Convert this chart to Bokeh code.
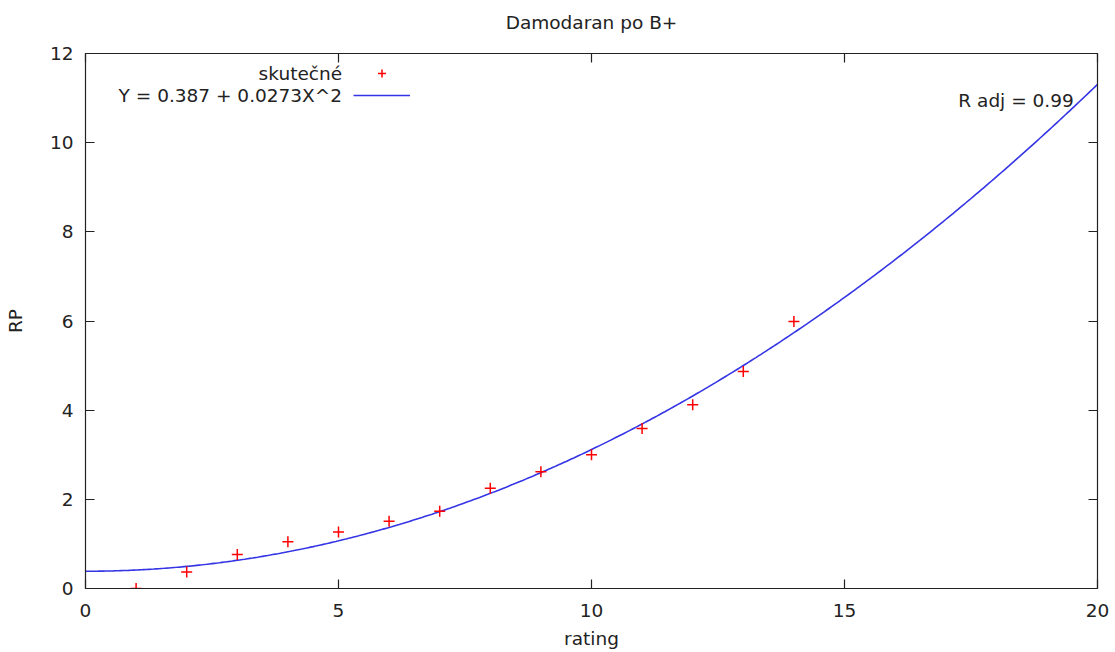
import numpy as np
from bokeh.plotting import figure
from bokeh.models import (Range1d, LinearAxis, FixedTicker, Legend, LegendItem,
                          Label)
from bokeh.embed import file_html
from bokeh.resources import INLINE

# ---- data ----
rating = [1, 2, 3, 4, 5, 6, 7, 8, 9, 10, 11, 12, 13, 14]
rp = [0.0, 0.37, 0.76, 1.05, 1.27, 1.51, 1.73, 2.25, 2.62, 3.0, 3.59, 4.12, 4.87, 5.99]
fit_b0 = 0.387
fit_b2 = 0.0273
x_ticks = [0, 5, 10, 15, 20]
y_ticks = [0, 2, 4, 6, 8, 10, 12]
title_text = "Damodaran po B+"
x_label = "rating"
y_label = "RP"
series_label = "skutečné"
fit_label = "Y = 0.387 + 0.0273X^2"
radj_text = "R adj = 0.99"

FONT = "DejaVu Sans"
FS = "18.5px"
TXT = "#222222"

fit_x = np.linspace(0, 20, 401)
fit_y = fit_b0 + fit_b2 * fit_x ** 2

p = figure(width=1115, height=652, output_backend="svg", toolbar_location=None,
           x_range=Range1d(0, 20), y_range=Range1d(0, 12),
           min_border_left=85, min_border_right=18, min_border_top=53,
           min_border_bottom=64, x_axis_location=None, y_axis_location=None)
p.grid.visible = False
p.outline_line_color = "#222222"
p.outline_line_width = 1.2

def style_axis(ax, ticks, show_labels):
    ax.ticker = FixedTicker(ticks=ticks)
    ax.major_tick_in = 9
    ax.major_tick_out = 0
    ax.minor_tick_line_color = None
    ax.axis_line_color = "#222222"
    ax.major_tick_line_color = "#222222"
    ax.major_tick_line_width = 1.2
    ax.major_label_text_font = FONT
    ax.major_label_text_font_size = FS
    ax.major_label_text_color = TXT
    ax.axis_label_text_font = FONT
    ax.axis_label_text_font_size = FS
    ax.axis_label_text_font_style = "normal"
    ax.axis_label_text_color = TXT
    if not show_labels:
        ax.major_label_text_font_size = "1px"
        ax.major_label_text_color = None
        ax.major_label_standoff = 0

xb = LinearAxis(axis_label=x_label)
style_axis(xb, x_ticks, True)
xb.major_label_standoff = 15
xb.axis_label_standoff = 8
p.add_layout(xb, "below")

yl = LinearAxis(axis_label=y_label)
style_axis(yl, y_ticks, True)
yl.major_label_standoff = 12
yl.axis_label_standoff = 21
p.add_layout(yl, "left")

# top mirror axis carries the chart title
xt = LinearAxis(axis_label=title_text)
style_axis(xt, x_ticks, False)
xt.axis_label_standoff = 21
p.add_layout(xt, "above")

yr = LinearAxis()
style_axis(yr, y_ticks, False)
p.add_layout(yr, "right")

curve = p.line(fit_x, fit_y, line_color="#3535e6", line_width=1.6)
pts = p.scatter(rating, rp, marker="cross", size=11, line_color="#ff0000",
                line_width=1.5)

leg = Legend(items=[LegendItem(label=" ", renderers=[pts]),
                    LegendItem(label=" ", renderers=[curve])],
             location=(268, 483), padding=0, margin=0, spacing=2,
             glyph_width=57, glyph_height=20, label_height=20, label_width=10,
             label_text_font_size="12px", border_line_color=None,
             background_fill_alpha=0)
p.add_layout(leg)

lab_x = 5.07
p.add_layout(Label(x=lab_x, y=11.55, text=series_label, text_align="right",
                   text_baseline="middle", text_font=FONT, text_font_size=FS,
                   text_color=TXT))
p.add_layout(Label(x=lab_x, y=11.06, text=fit_label, text_align="right",
                   text_baseline="middle", text_font=FONT, text_font_size=FS,
                   text_color=TXT))
p.add_layout(Label(x=19.53, y=10.94, text=radj_text, text_align="right",
                   text_baseline="middle", text_font=FONT, text_font_size=FS,
                   text_color=TXT))

open("out.html", "w").write(file_html(p, INLINE))
